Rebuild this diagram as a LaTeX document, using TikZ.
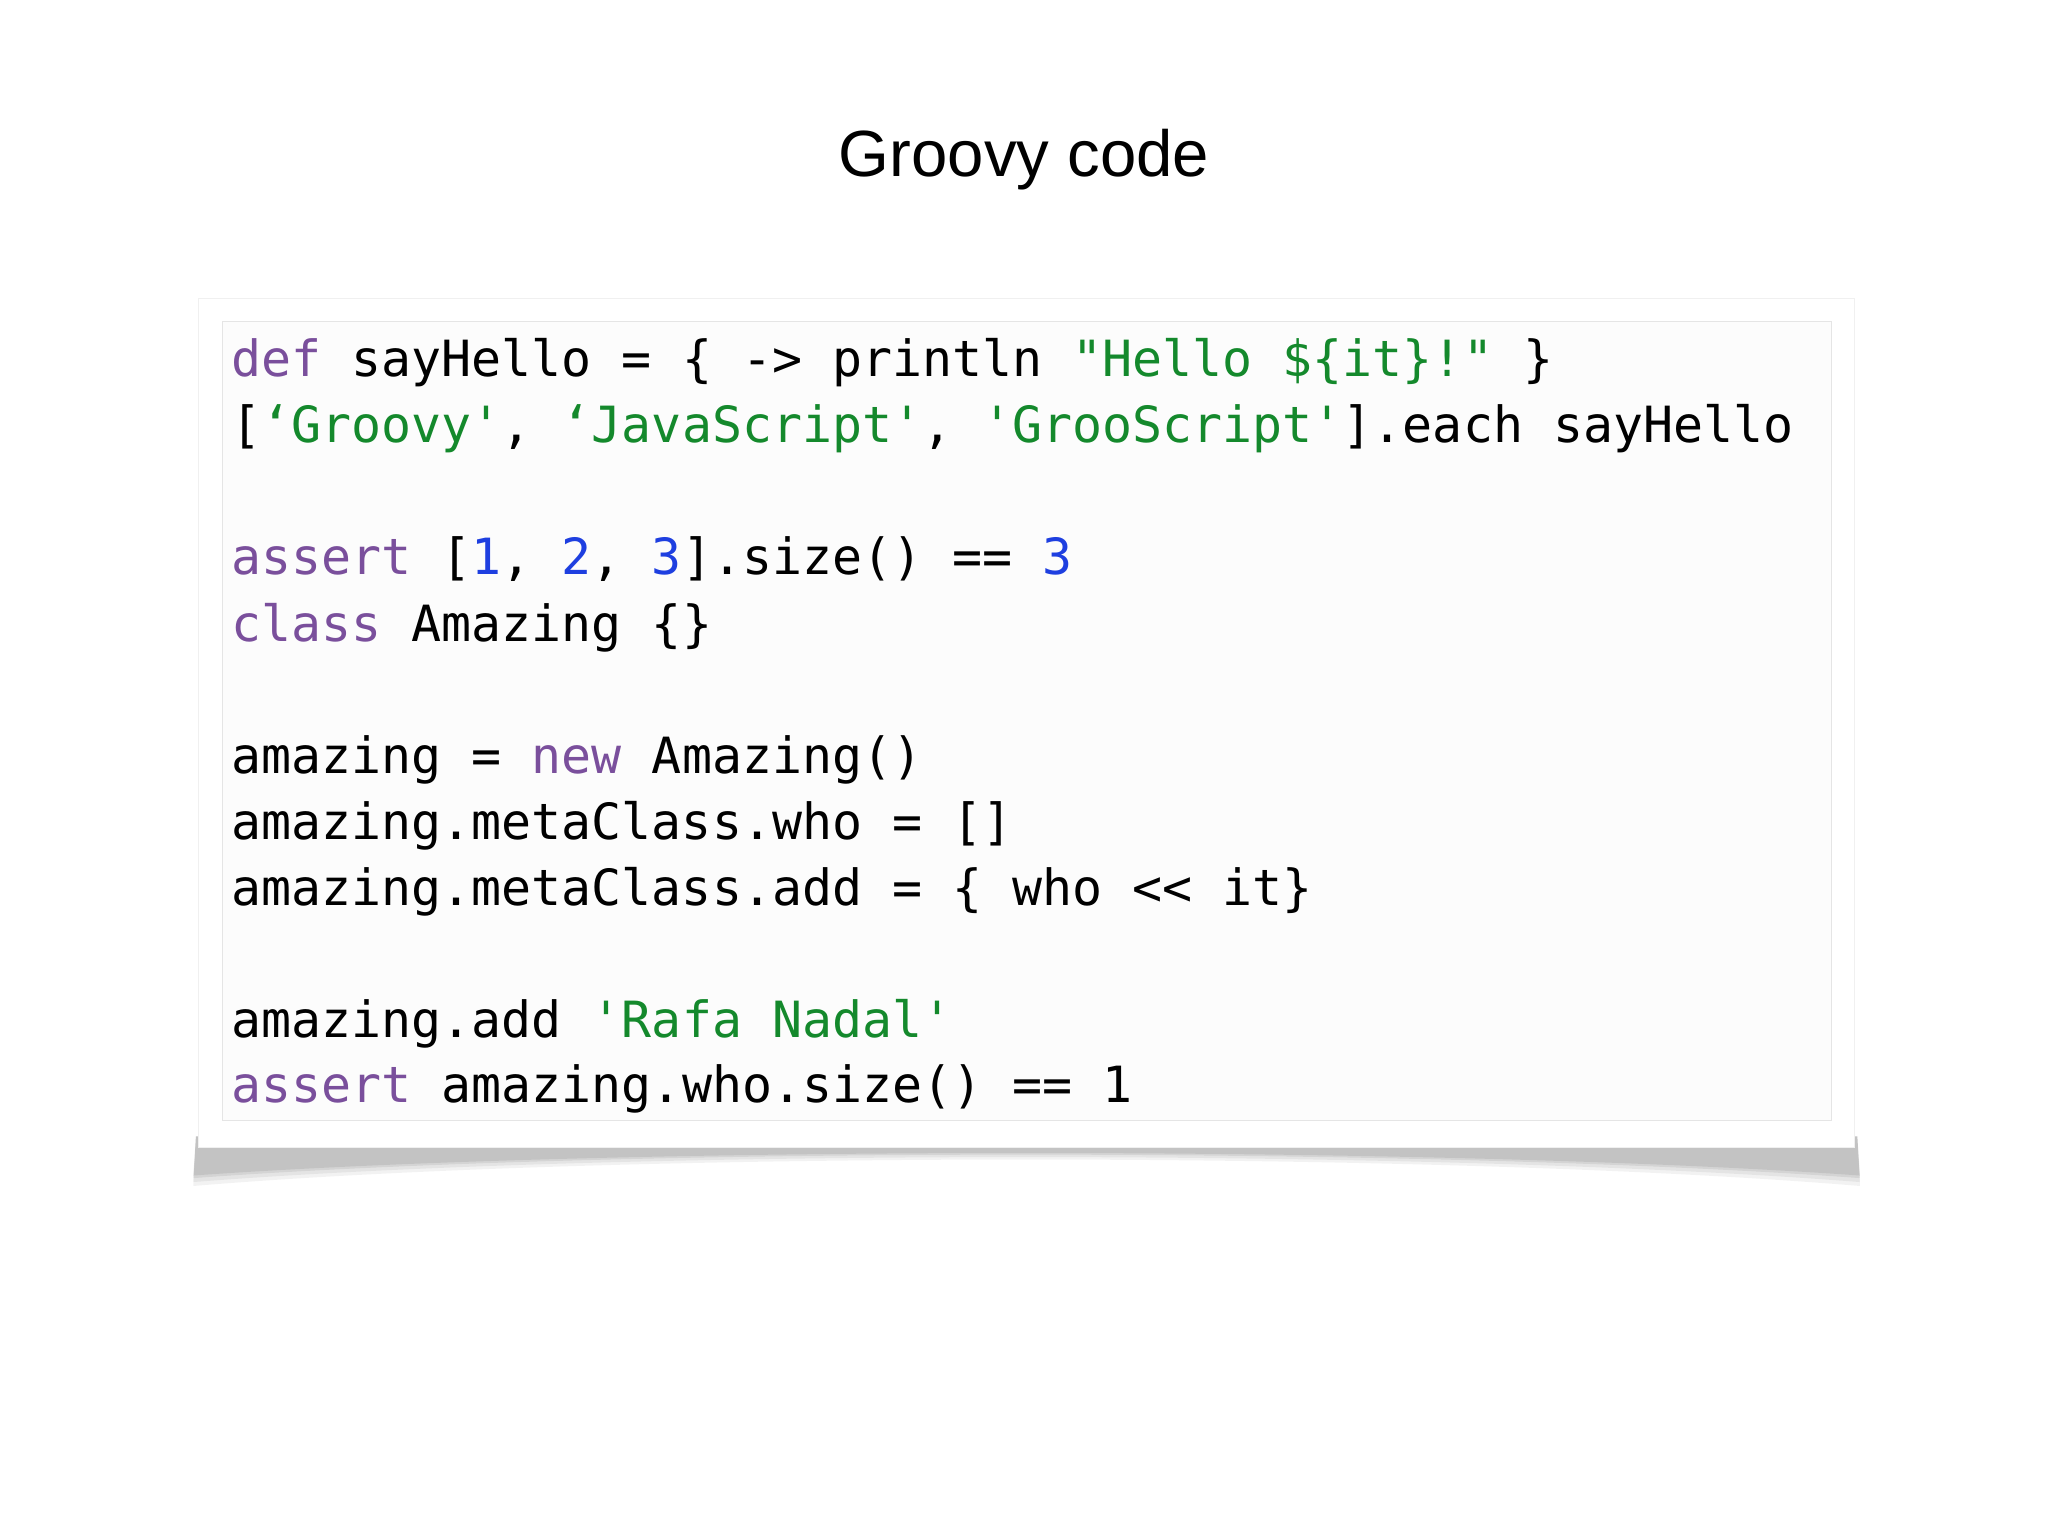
\documentclass[tikz,border=0pt]{standalone}
\usepackage{fontspec}
\setsansfont{Liberation Sans}
\newfontfamily\codefont{DejaVu Sans Mono}
\definecolor{kw}{HTML}{7A4F9C}
\definecolor{st}{HTML}{14892C}
\definecolor{nm}{HTML}{1E3FE0}
\tikzset{codeline/.style={anchor=base west,inner sep=0pt,font=\codefont\fontsize{38.2bp}{44bp}\selectfont}}
\newcommand{\K}[1]{\textcolor{kw}{#1}}
\newcommand{\Sg}[1]{\textcolor{st}{#1}}
\newcommand{\N}[1]{\textcolor{nm}{#1}}
\begin{document}
\begin{tikzpicture}[x=1bp,y=-1bp]
\useasboundingbox (0,0) rectangle (1568,1176);
\node[font=\sffamily\fontsize{50bp}{60bp}\selectfont] (title) at (784,122) {Groovy code};
% shadow
\foreach \d/\o in {10/0.05,7/0.06,4/0.07,2/0.08}{
\fill[black,opacity=\o] (150,870) -- (1422,870) -- (1424,898+\d) .. controls (1100,876+\d/2) and (470,876+\d/2) .. (148,898+\d) -- cycle;
}
\node[draw=gray!12,fill=white,minimum width=1268bp,minimum height=650bp,inner sep=0pt] (card) at (786,553) {};
\node[draw=gray!20,fill=gray!2,minimum width=1232bp,minimum height=612bp,inner sep=0pt] (inner) at (786,552) {};
\node[codeline] (l1) at (177,288) {\K{def} sayHello = \{ -> println \Sg{"Hello \$\{it\}!"} \}};
\node[codeline] (l2) at (177,339) {[\Sg{‘Groovy'}, \Sg{‘JavaScript'}, \Sg{'GrooScript'}].each sayHello};
\node[codeline] (l3) at (177,440) {\K{assert} [\N{1}, \N{2}, \N{3}].size() == \N{3}};
\node[codeline] (l4) at (177,491) {\K{class} Amazing \{\}};
\node[codeline] (l5) at (177,592) {amazing = \K{new} Amazing()};
\node[codeline] (l6) at (177,643) {amazing.metaClass.who = []};
\node[codeline] (l7) at (177,693) {amazing.metaClass.add = \{ who << it\}};
\node[codeline] (l8) at (177,794) {amazing.add \Sg{'Rafa Nadal'}};
\node[codeline] (l9) at (177,844) {\K{assert} amazing.who.size() == 1};
\end{tikzpicture}
\end{document}
